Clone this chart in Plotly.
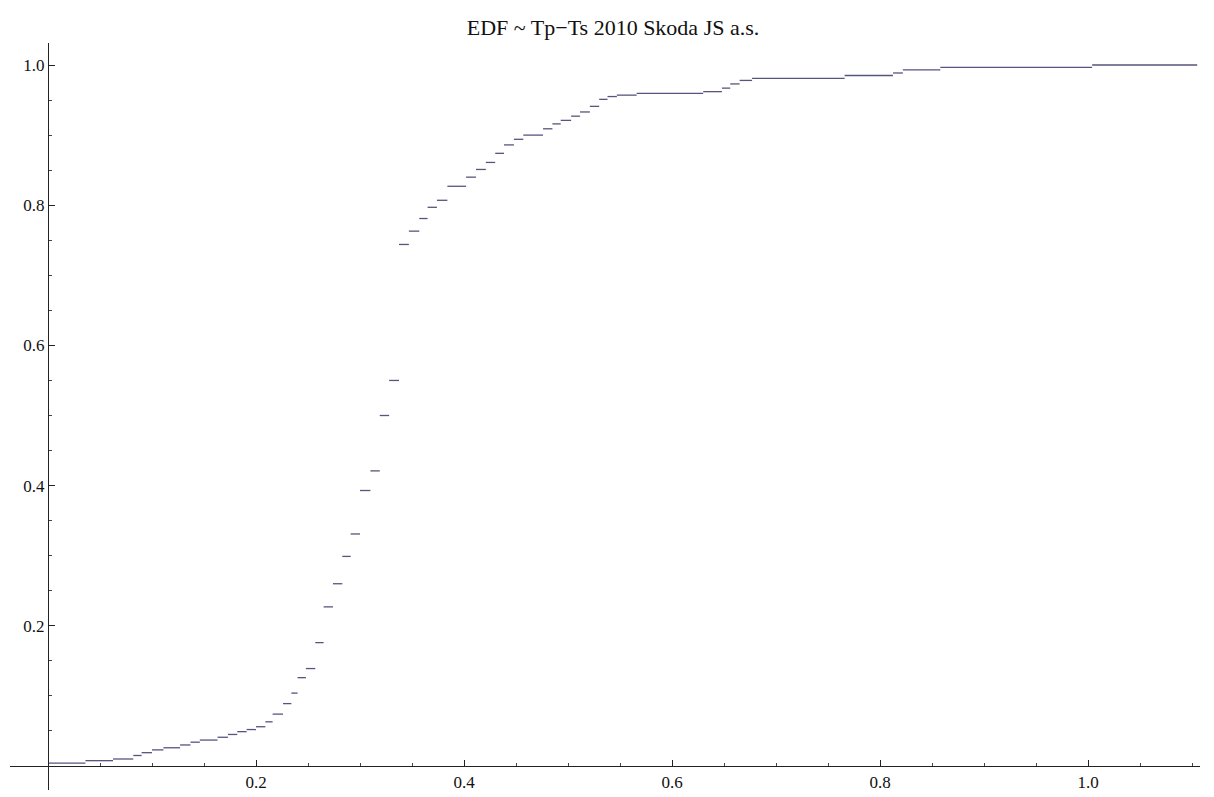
import numpy as np
import plotly.graph_objects as go

# EDF step starts (x) and EDF values on each step
step_x = [0.000, 0.036, 0.0625, 0.082, 0.090, 0.100, 0.111, 0.127, 0.137, 0.146,
          0.163, 0.173, 0.182, 0.191, 0.200, 0.209, 0.216, 0.226, 0.234, 0.240,
          0.248, 0.257, 0.265, 0.274, 0.283, 0.291, 0.300, 0.310, 0.319, 0.328,
          0.3375, 0.347, 0.357, 0.365, 0.374, 0.384, 0.402, 0.4115, 0.421, 0.430,
          0.4385, 0.448, 0.457, 0.476, 0.485, 0.493, 0.503, 0.5115, 0.521, 0.530,
          0.538, 0.547, 0.566, 0.630, 0.648, 0.656, 0.665, 0.677, 0.766, 0.8125,
          0.822, 0.858, 1.004]
step_y = [0.004, 0.0076, 0.010, 0.015, 0.019, 0.023, 0.026, 0.030, 0.034, 0.037,
          0.041, 0.045, 0.049, 0.052, 0.056, 0.063, 0.074, 0.089, 0.104, 0.126,
          0.139, 0.176, 0.227, 0.260, 0.299, 0.331, 0.393, 0.421, 0.500, 0.550,
          0.744, 0.763, 0.781, 0.797, 0.807, 0.827, 0.840, 0.851, 0.861, 0.874,
          0.886, 0.894, 0.900, 0.909, 0.916, 0.921, 0.927, 0.933, 0.941, 0.951,
          0.955, 0.957, 0.9595, 0.962, 0.967, 0.973, 0.978, 0.981, 0.985, 0.9886,
          0.993, 0.9967, 1.000]
x_end = 1.105

title_text = "EDF ~ Tp\u2212Ts 2010 Skoda JS a.s."
major_ticks = [0.2, 0.4, 0.6, 0.8, 1.0]
major_labels = ["0.2", "0.4", "0.6", "0.8", "1.0"]

# build horizontal segments separated by gaps
xs, ys = [], []
ends = step_x[1:] + [x_end]
for x0, x1, yv in zip(step_x, ends, step_y):
    xs += [x0, x1, None]
    ys += [yv, yv, None]

fig = go.Figure()
fig.add_trace(go.Scatter(x=xs, y=ys, mode="lines",
                         line=dict(color="#55557d", width=1.3),
                         connectgaps=False, hoverinfo="skip", showlegend=False))

# page has an 8px body margin; figure coordinates are page coordinates minus 8
OFF = 8
W, H = 1214 - OFF, 797 - OFF
left_px, right_px, top_px, bot_px = 10 - OFF, 1200 - OFF, 43 - OFF, 790 - OFF
ml, mr, mt, mb = left_px, W - right_px, top_px, H - bot_px
pw, ph = W - ml - mr, H - mt - mb
px_per_x = 1040.0
px_per_y = 701.0
x0_px, y0_px = 48 - OFF, 766 - OFF
xr = [(left_px - x0_px) / px_per_x, (right_px - x0_px) / px_per_x]
yr = [(y0_px - bot_px) / px_per_y, (y0_px - top_px) / px_per_y]

minor_vals = [round(v, 2) for v in np.arange(0.05, 1.11, 0.05)]

axis_font = dict(family="Liberation Serif, Times New Roman, serif", size=17, color="#111")
common = dict(showline=True, linecolor="#222", linewidth=1.3,
              showgrid=False, zeroline=False, automargin=False,
              tickmode="array", tickvals=major_ticks, ticktext=major_labels,
              ticks="inside", ticklen=6, tickwidth=1.2, tickcolor="#222",
              minor=dict(tickmode="array", tickvals=minor_vals, ticks="inside",
                         ticklen=3, tickwidth=1, tickcolor="#444", showgrid=False),
              tickfont=axis_font)
fig.update_xaxes(range=xr, anchor="free", position=(bot_px - y0_px) / ph, **common)
fig.update_yaxes(range=yr, anchor="free", position=(x0_px - left_px) / pw, **common)

fig.update_layout(
    width=W, height=H,
    margin=dict(l=ml, r=mr, t=mt, b=mb, autoexpand=False),
    paper_bgcolor="white", plot_bgcolor="white",
    title=dict(text=title_text, x=(613 - OFF) / W, xanchor="center",
               y=1 - (27 - OFF) / H, yanchor="middle",
               font=dict(family="Liberation Serif, Times New Roman, serif", size=22, color="#111")),
)

fig.write_html("out.html")
